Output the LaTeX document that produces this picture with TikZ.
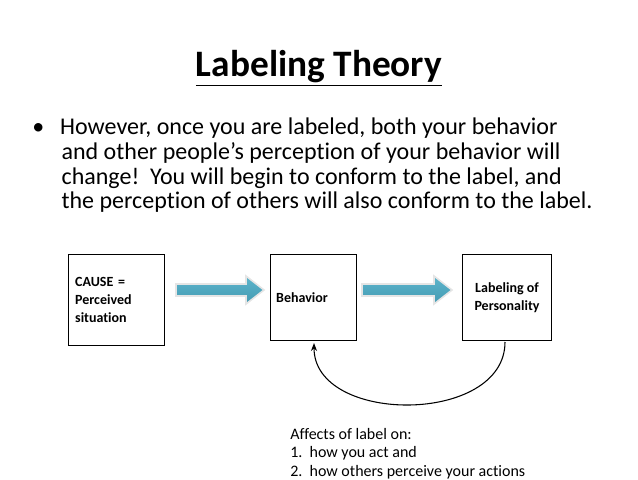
\documentclass[tikz,border=0pt]{standalone}
\usepackage{fontspec}
\setmainfont{Carlito}[Ligatures={NoCommon}]
\usetikzlibrary{arrows.meta}
\definecolor{arrowblue}{HTML}{4BACC6}
\tikzset{
  stepbox/.style={draw, thick, align=left, font=\bfseries\fontsize{10.5}{13.5}\selectfont, inner sep=4pt},
  blockarrow/.style={draw=black!10, line width=1.2pt, top color=arrowblue!90!white, bottom color=arrowblue!90!black}
}
\newcommand{\blockarr}[2]{% start x, end x
  \path[blockarrow] (#1,284) -- (#2-18,284) -- (#2-18,276) -- (#2,290) -- (#2-18,304) -- (#2-18,296) -- (#1,296) -- cycle;}
\begin{document}
\begin{tikzpicture}[x=0.75pt,y=-0.75pt]
\useasboundingbox (0,0) rectangle (638,479);
% title
\node[font=\bfseries\fontsize{28}{33}\selectfont] (title) at (319,68) {\underline{Labeling Theory}};
% bullet
\node[anchor=north west, font=\fontsize{18}{18.5}\selectfont, align=left, inner sep=0pt] (bullet) at (32,118)
  {\textbullet\hspace{12pt}However, once you are labeled, both your behavior\\
   \hspace*{22pt}and other people’s perception of your behavior will\\
   \hspace*{22pt}change!\ \ You will begin to conform to the label, and\\
   \hspace*{22pt}the perception of others will also conform to the label.};
% boxes
\node[stepbox, minimum width=72pt, minimum height=68pt, text width=62pt] (cause) at (116.5,300) {CAUSE =\\Perceived\\situation};
\node[stepbox, minimum width=65pt, minimum height=64pt, text width=56pt] (behav) at (313.5,297.5) {Behavior};
\node[stepbox, minimum width=67pt, minimum height=64pt, align=center] (label) at (507,297.5) {Labeling of\\Personality};
% block arrows
\blockarr{176}{264}
\blockarr{362}{452}
% feedback
\draw[-{Stealth[length=6pt]}, thick] (505,342) .. controls (505,425) and (314,425) .. (314,343);
\node[anchor=north west, font=\fontsize{12}{13.8}\selectfont, align=left, inner sep=0pt] (note) at (290,428)
  {Affects of label on:\\1.\ \ how you act and\\2.\ \ how others perceive your actions};
\end{tikzpicture}
\end{document}
